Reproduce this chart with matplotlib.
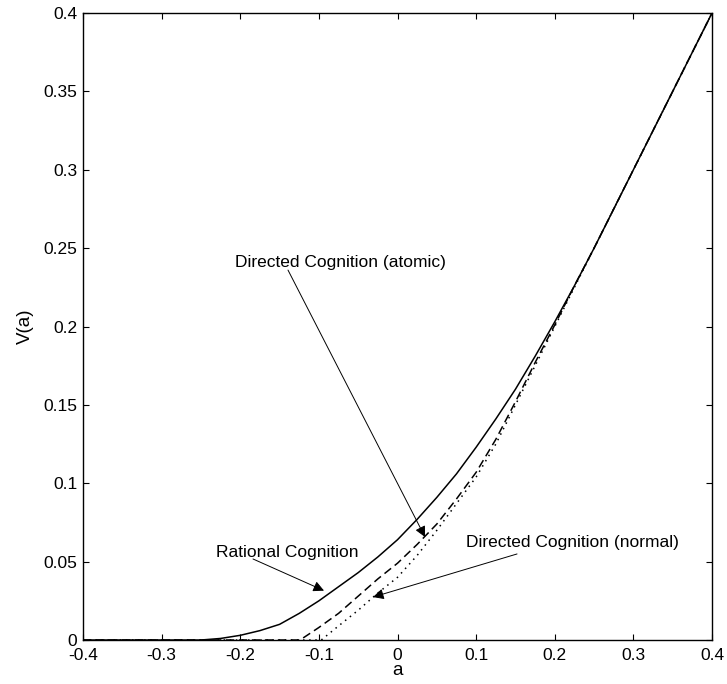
import matplotlib
matplotlib.use("Agg")
import matplotlib.pyplot as plt
import numpy as np

plt.rcParams['font.family'] = ['Liberation Sans', 'DejaVu Sans']
plt.rcParams['font.size'] = 12.5

# values
a_rational = [-0.4, -0.25, -0.225, -0.2, -0.175, -0.15, -0.125, -0.1, -0.075, -0.05, -0.025,
              0.0, 0.025, 0.05, 0.075, 0.1, 0.125, 0.15, 0.175, 0.2, 0.225, 0.25, 0.3, 0.35, 0.4]
v_rational = [0.0, 0.0, 0.001, 0.003, 0.006, 0.010, 0.017, 0.025, 0.034, 0.043, 0.053,
              0.064, 0.077, 0.091, 0.106, 0.123, 0.141, 0.160, 0.181, 0.203, 0.226, 0.25, 0.3, 0.35, 0.4]

a_atomic = [-0.4, -0.124, -0.1, -0.075, -0.05, -0.025, 0.0, 0.025, 0.05, 0.075, 0.1,
            0.125, 0.15, 0.175, 0.2, 0.225, 0.25, 0.3, 0.35, 0.4]
v_atomic = [0.0, 0.0, 0.008, 0.017, 0.028, 0.039, 0.049, 0.061, 0.074, 0.090, 0.107,
            0.128, 0.152, 0.177, 0.201, 0.226, 0.25, 0.3, 0.35, 0.4]

a_normal = [-0.4, -0.097, -0.075, -0.05, -0.025, 0.0, 0.025, 0.05, 0.075, 0.1,
            0.125, 0.15, 0.175, 0.2, 0.225, 0.25, 0.3, 0.35, 0.4]
v_normal = [0.0, 0.0, 0.009, 0.019, 0.030, 0.040, 0.054, 0.070, 0.087, 0.104,
            0.125, 0.150, 0.175, 0.200, 0.225, 0.25, 0.3, 0.35, 0.4]

x_ticks = [-0.4, -0.3, -0.2, -0.1, 0, 0.1, 0.2, 0.3, 0.4]
x_labels = ['-0.4', '-0.3', '-0.2', '-0.1', '0', '0.1', '0.2', '0.3', '0.4']
y_ticks = [0, 0.05, 0.1, 0.15, 0.2, 0.25, 0.3, 0.35, 0.4]
y_labels = ['0', '0.05', '0.1', '0.15', '0.2', '0.25', '0.3', '0.35', '0.4']

# label text position, arrow start, arrow tip
notes = [
    ("Directed Cognition (atomic)", (-0.2067, 0.241), (-0.1393, 0.236), (0.035, 0.0657)),
    ("Rational Cognition", (-0.2308, 0.0561), (-0.1838, 0.0517), (-0.0935, 0.0315)),
    ("Directed Cognition (normal)", (0.0871, 0.0619), (0.152, 0.0549), (-0.0312, 0.0274)),
]

fig = plt.figure(figsize=(7.27, 6.84), dpi=100)
ax = fig.add_axes([0.1142, 0.0643, 0.8652, 0.9167])

ax.plot(a_rational, v_rational, color='k', lw=1.1, linestyle='-')
ax.plot(a_atomic, v_atomic, color='k', lw=1.1, linestyle=(0, (5.5, 3)))
ax.plot(a_normal, v_normal, color='k', lw=1.1, linestyle=(0, (1, 3)))

for label, txt_pos, start, tip in notes:
    ax.text(txt_pos[0], txt_pos[1], label, ha='left', va='center', fontsize=12.5)
    ax.annotate('', xy=tip, xytext=start,
                arrowprops=dict(arrowstyle='-|>', color='k', lw=0.7,
                                mutation_scale=16, shrinkA=0, shrinkB=0))

ax.set_xlim(-0.4, 0.4)
ax.set_ylim(0, 0.4)
ax.set_xticks(x_ticks)
ax.set_xticklabels(x_labels)
ax.set_yticks(y_ticks)
ax.set_yticklabels(y_labels)
ax.tick_params(direction='in', length=4.5, width=0.8, top=True, right=True,
               labelsize=12.5)
ax.tick_params(axis='x', pad=6)
ax.tick_params(axis='y', pad=4)
for s in ax.spines.values():
    s.set_linewidth(1.0)

ax.set_xlabel('a', fontsize=13.5, labelpad=-1)
ax.set_ylabel('V(a)', fontsize=13.5, labelpad=7)

fig.savefig('out.png', dpi=100)
